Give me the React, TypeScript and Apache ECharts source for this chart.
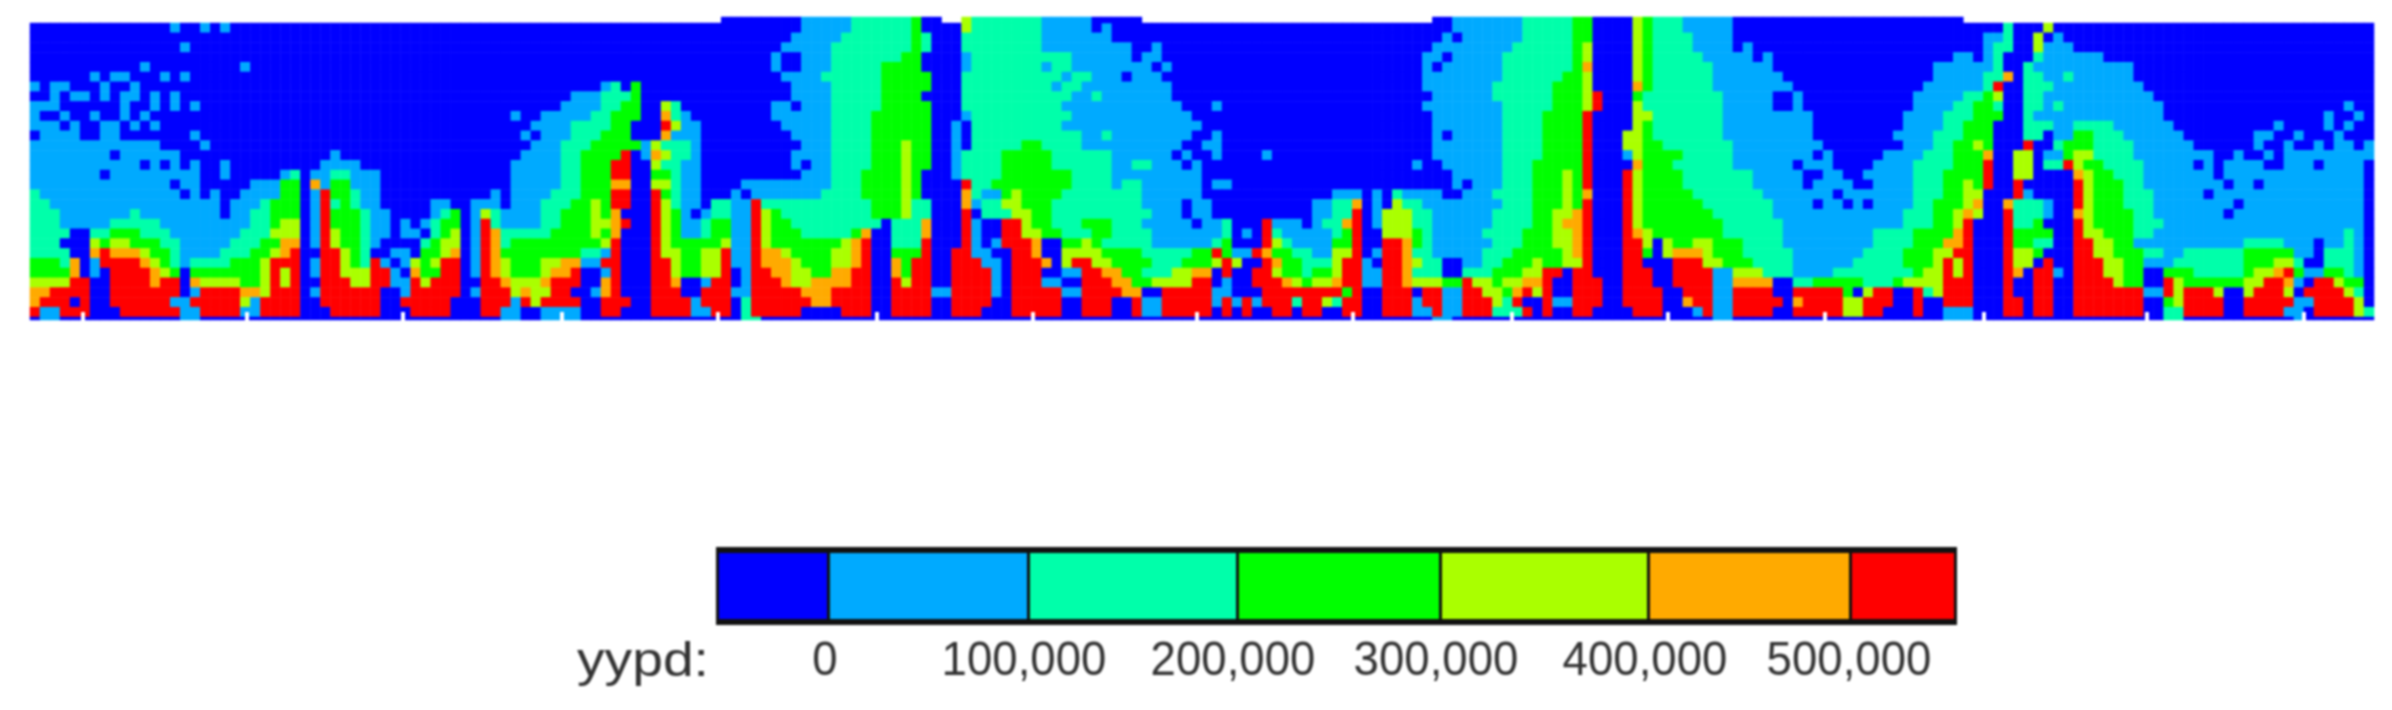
import React, { useEffect, useRef } from "react";
import * as echarts from "echarts";

// Each row: runs of "<first column><band letter>", a = below 0 ... g = above 500,000, z = no cell.
const columnCount = 234;
const rateRows = [
"0a14b15a17b18a19b20a77b82c88d89a93e94c101b106a107b108a142b149c154d156a160e161d162c165b170a197c198a201e202a",
"0a76b81c88d89c90a93c101b108a141b142a143b149c154d156a160e161d162c166b170a195b197c198a200e201a202b203a",
"0a15b16a75b80c88d89c90a93c101b110a112b113a140b148c154d155e156a160e161d162c166b170a171b172a195b196c198a200e201b204a",
"0a74b75a77b80c87d89a93b94c104b110a111b113a139b141a142b147c154d155e156a160e161d162c167b172a173b174a192b194a195b196c197a200c201b207a",
"0a11b12a21b22a74b75a77b80c85d89a93b94c101b102c104b112a113b114a139b140a141b147c154d155f156a160e161d162c168b174a190b196c197a199c200b210a",
"0a6b7a8b10a13b14a15b16a75b79c85d90a93c103b104c106b109a110b113a139b147c153d155e156a160e161d162c168b175a190b195c197f198a199c201b203c204b210a",
"0b1a2b4a7b8a10b11a57b58c59a60d61a76b80c85d90a93c102b103c105b114a139b146c152d155e156a160f161d162c168b176a189b195c196g197a199c202b211a",
"0a2b3a4b6a7b8a9b11a12b13a14b15a54b57c60d61a76b80c85d89a93c104b106c107b114a140b146c152d155e156g157a160d161c169b174a176b177a188b193c195d196e197a199c201b212a",
"0b3a9b10a12b13a14b15a16b17a53b57c59d61a63e64c65a74b76a77b80c85d90a93c103b115a118b119a139b147c152d155e156g157a160e161c169b174a176b177a188b192c194d196c197a199c201b202c203b213a231b232a",
"0b1a3b4a6b7a9b10a11b12a48b49a51b56c58d61a63f64c65b66a74b80c84d90a93b94c104b116a140b147c151d155g156a160e162c169b178a187b191c194d197a199c200b213a229b230a232b233a",
"0b3a4b5a7b9a10b11a12b13a50b54c58d60a63g64e65b67a75b80c84d90a92b93a94c103b117a140b147c151d155g156a160e161d162c169b178a187b191c193d196a199c202b204c208b214a224b225a229b230a231b232a",
"0a1b5a7b9a16b17a49b50a51b54c57d60a63f64b67a76b80c84d90a92b93a94c105b107c108b116a118b119a140b141a142b147c151d155g156a159e161d162c169b178a186b190c193d196a199c201a202b204d206c209b215a222b224a226b227a230b231a",
"0b13a17b18a50b53c56d61b62e63c66b67a77b80c84d87e88d90a92b93a94c99d101c105b115a117b119a140b147c151d155g156a159e161d163c170b179a186a187b190c192d194e195d196a199g200a202c203d206c210b216a222b223a225b226a228b229a230b232a233b234a",
"0b8a9b15a30b31a49b53c55d59g60a61b62f63e64c66b67a76b80c84d87e88d90a92b93c97d102c108b114a115b116a118b119a123b124a140b147c151d155g156a159b160e161d165c170b178a179b180a185b189c192d195f196a198e200a201b203d204e206c210b218a220b221a223b224a225b234a",
"0b11a12b13a14b15a16b17a19b20a29b33a48b53c55d58g60a62e63c65b67a76b77a78b80c84d87e88d90a92b93c97d102c108b110c112b115a116b117a138b139a141b147c150d155g156a160f161d164c170b176a177b180a184b188c192d195g196a198e200a201c203g204e205d207c211b216a217b218a219b223a225b228a229b233a",
"0b7a8b17a19b20a25b26c27a28b30c32b35a48b53c55d58g60a62d64c65b67a77b80c83d87e88d89a92b93c97d104c108b117a142b147c150d153e154d155g156a159g160e161d165c172b177a179b181a183b188c191d195g196a198e200a204f205e206d208c211b218a219b233a",
"0b14a15b17a22b25d27a28f29b30d32b35a48b53c55d58f60a62e64c65b67a71b80c83d87e88d89a93g94c96d104c108b109c111b117a118b120a142b143a144b147c150d153e154d155g156a159g160e161d165c172b177a178b182a184b188c191d193e194d195g196a198g199a204g205e206d209c211b219a220b222a223b233a",
"0c1b15a16b17a18b19a21b25d27a28b29g30d32c33b35a46b47a48b52c55d58g60a62g63d64c65b67a70b71a72b79c83d87e88d89a93f94c95b97d98e99d103c111b117a130b133a134b135a136c137b141a143b146c150d153e154d155f156a159g160e161d166c173b180a181b188c191d193e195a198g199b200a204g205e206d209c212b217a218b233a",
"0c2b19a20b23c24d27a28b29g30c31d32c33b35a40b42a44b47a48b51c54d56e57d58g60a62g63e64c65b67a68c70b72g73c84d87e88c90a93f94b95c97e99d102c111b115a116b118a128b130c132f133a134b135a136e137c139b147c150d153e154d155g156a159g160e161d167c174b178a179b181a182b183a184b188c190d193e194f195a197f198c201b202a204g205e206d209c212b220a221b233a",
"0c3b10c11b19a20b22c24d27a28b29g30d33c34b36a40b41c42d43a44b45e46c47b51c53d56e57d58f59a62g63e64d65b66a67b68c70b72g73e74d75c84d87e88c90a93g94a95c98e100d102c112b115a116b118a128b130c132g133a134b135e138c140b146c150d152e154f155g156a159g160e161d168c174b187c190d192e193f194e195a197g198c201b202a204f205e206d210c212b219a220b233a",
"0c3b8c13b22c24d25e27a28b29g30d33c34b36a37b38a39b40c41d43a44b45g46c47b51c53d56e58f59g60a62g63e64d65b67c68d70b72g73e74d76c85a86c89f90a93g94b95a97g99e100d102c105d108c111b116a117b119c120a123g124b127a128b129c131f132g133a134b135e138c140b146c150d152e153f155g156a159g160e161d169c175b187c190d192e193g194a197g198c200d201a204g205e206d210c213b233a",
"0c4a6c8d11c14b21c24e27a28b29g30e31d33c34b36a37b39a40c41d42e43a44b45g46f47c52d56e57d58f59a62g63e64d65b67c68d70b72g73e74d77c82d83f84a86c89f90a93g94b95a97g99e101d103c106d108c112b119c120a121b122a123g124c125b130c131d132g133a135e138d139c140b145c149d152e154f155g156a159g160f161e162d169c175b184c188d192f193g194a197g198d202a204g205e207d210c212b231c232b233a",
"0c3a6e7d8e10d13c15b20c23d25f27a28b29g30e31d33c34b35a39c40d41e43a44b45g46f47c48d57e58g59a62g63e64d69e70b72g73e74d81e82f83g84a86c89g90a93g94b95a96b97g100f101a103d105e106d107c112b118c119d120a123g124e125c126b130d132g133a135g137f138d139c140b146c149d152e154f155g156a159g161e162a163e164d166e168d171c175b184c188d191f193g194a197g198d200c202a204g206e208d210b221c225b228a229b231c232b233a",
"0c4a6f7g8f11e12d14c15b19c22d24e25f26g27a29g31e32d33c34a36b38a39d41e42f43a44b45g46f47d55c57b58g59a62g63e65d67e69g70b72g73f75e76d80e82f83g84a86d89g90a92g94b96a98g100f101a103e107d111c116d118g119d120b122g123f124d126c128b130e132g133a134b135g137f138c140b145c148d153e154f155g156a159g161d162a163e164f167e168d171c176b183c187d190e192g194a197g198e200d201a204g206e208d211c213b215c221d226b228a229c232b233a",
"0d3c4f5a6b7g11f12e13d14c15b16c20d23e24g27a28b29g31e32d33c34g35b36a37b38e39d40e41g43a44b45g46f47e48d51e53f55b57g59a62g64e65d67e69g70b72g73f76e77d80e82f83g84a86f87d88g90a92g95b97a98g101f102a103e104g106e108d112c115d118e119g120e121a123g124f125d127c130e131g133b134a135g137f138e139c141a143b145c147d150e151d153e155g156a159g161a164g167e169d172c176b182c187d190e191g192e193g194a197g198e200a201g202a204g207e209d211b214c221d224e226c227a229c232b233a",
"0d4f5a6b7a8g12f13e14d15a16d23e24g25e26g27a28b29g31e34g36b37a38f39d41g43a44b45g46f47e48d51e52f54g55a57b58g59a62g64e65d67e69g70a71b72g74f76e78d80f82g84a86f87d88g90a92g96b97a98g101a103b105g107f109d111c114e116f118a119g120a122g124e125d127c128d130e131g133b135g137f138c141a143c146d149e151g153a154g156a159g162a164g168b170e173c176b180c188d189e191g192e193g194a197g198f199a200g202b203a204g207e209d211a213d216c221d222e224f225g226d227b229d231c232b233a",
"0e4g6a8g12f13g15a16f17e21d23e24g25e26g27a29g32e34g36b38g39e40g43a45g47f48e51f52g55a57f58g59a62g64f65a67b68g70a71b72g75f76e78f82g84a86g87e88g90a92g96b97a98g101b103a105g108f110d112e116g118a119b120a122g125f126e127d128e130f131g133b135g137f138e141d143g144e146d147e149f151g152a154g157a159g162a164g168b170f174a176c178d183c186d187e191g194a197g198a200g202a204g208e209d211a213g214e215d221e223g225f226b227a228g230e231d233a",
"0f2g6a8g15a16b17g21f23e24g27a28b29g35a37b38g43a44b45g48e49f50e52g54a56b57f58g59a62g65a67g70b72g77f80g84a86g90b92g96b97a98g103b105g109f111a113g118b120a123g131d132g133a135g138a139g141b143g145e147d148f149g150e151g152a154g157a159g163a165g168b170g174a176g181d182a183e184g186a188g189c190e191g194a197g198a200g202a204g211b213g214e215g218e219a221e222g225e226a227g231e232c233a",
"0f1g4a5g6a8g14b16g21e22b23g27a29g35a37g42a45g47g48b49g50e51g55a57g60a62g66b67g70a71c72g78f80g84a86g90a92g96a98g103a105g108a110g111b113g118b119g120b121g122b123g126c127g129e130c131g133a135g138b139g141b143g146e147c148g149a151g152b154g157a159g163a165f166g168b170g175a176f177g181e183g186a188g189a191g194a197g199a200g202a204g211a213d214e215g219a221g226b228g232e233a",
"0g1b3g6a9g15b17g21b23g27a30g35a38g42a45g47b49a51b55a57g59a62g66b68g70a71c72g77a81g84a86g90a92g95a98g103a105g108a110g111b113g118a119g120a121g122a124g126a127g129a131g133a135g138b140g141b143g146c149g150a151g152a154g156a160g163a166b167g168b170g174a176g181e183g185a188g189a191b194a197g199a200g202a204g211a213c215g219a221g225b227a228g232e233c",
];
const raisedStrip = "0z69a77b82c88d89a91z93e94c101b106a111z140a142b149c154d156a160e161d162c165b170a193z";
const bottomStrip = "0a1b3a15b17a47b49a51b55a71c73a140b142a168b170a191b194a213c215a226b227a";

const bandLetters = "abcdefg";
const bandValues = [-50000, 50000, 150000, 250000, 350000, 450000, 550000];
const bandColors = ["#0000ff", "#00aaff", "#00ffaa", "#00ff00", "#aaff00", "#ffaa00", "#ff0000"];
const bandLimits = [-100000, 0, 100000, 200000, 300000, 400000, 500000, 600000];

const legendEdges = [719, 827, 1027, 1236, 1439, 1647, 1849, 1954];
const legendTicks = ["0", "100,000", "200,000", "300,000", "400,000", "500,000"];
const legendTickCentres = [825, 1024, 1233, 1436, 1645, 1849];
const legendUnit = "yypd:";
const notchPositions = [83, 247, 403, 562, 718, 877, 1033, 1197, 1353, 1512, 1668, 1825, 1984, 2147, 2304];

function decode(row: string, r: number) {
  const tokens = [...row.matchAll(/(\d+)([a-gz])/g)];
  const out: number[][] = [];
  tokens.forEach((t, i) => {
    const start = Number(t[1]);
    const end = i + 1 < tokens.length ? Number(tokens[i + 1][1]) : columnCount;
    const band = bandLetters.indexOf(t[2]);
    if (band < 0) return;
    for (let c = start; c < end && c < columnCount; c++) out.push([c, r, bandValues[band]]);
  });
  return out;
}

const columns = Array.from({ length: columnCount }, (_, i) => String(i));
const rowNames = rateRows.map((_, i) => String(i));

export default function App() {
  const ref = useRef<HTMLDivElement>(null);
  useEffect(() => {
    const chart = echarts.init(ref.current!, null, { renderer: "svg" });
    const hiddenX = (gridIndex: number) => ({ type: "category", data: columns, gridIndex, show: false });
    const heat = (xAxisIndex: number, yAxisIndex: number, data: number[][]) => ({
      type: "heatmap", xAxisIndex, yAxisIndex, data, progressive: 0, silent: true,
      itemStyle: { borderWidth: 0 }, emphasis: { disabled: true },
    });
    const graphic: any[] = [];
    notchPositions.forEach((x) =>
      graphic.push({ type: "rect", shape: { x: x - 2, y: 312, width: 4, height: 11 }, style: { fill: "#ffffff" }, z: 50 })
    );
    graphic.push({ type: "rect", shape: { x: 716, y: 547, width: 1241, height: 78 }, style: { fill: "#111111" }, z: 50 });
    bandColors.forEach((fill, i) =>
      graphic.push({
        type: "rect",
        shape: { x: legendEdges[i] + (i ? 3 : 0), y: 553, width: legendEdges[i + 1] - legendEdges[i] - (i ? 3 : 0), height: 66 },
        style: { fill }, z: 51,
      })
    );
    legendTicks.forEach((text, i) =>
      graphic.push({
        type: "text", x: legendTickCentres[i], y: 659, z: 51, scaleX: 0.95,
        style: { text, fontFamily: "Liberation Sans", fontSize: 48, fill: "#333333", textAlign: "center", textVerticalAlign: "middle" },
      })
    );
    graphic.push({
      type: "text", x: 577, y: 659, z: 51, scaleX: 1.15,
      style: { text: legendUnit, fontFamily: "Liberation Sans", fontSize: 48, fill: "#333333", textAlign: "left", textVerticalAlign: "middle" },
    });
    chart.setOption({
      animation: false,
      backgroundColor: "#ffffff",
      grid: [
        { left: 30, top: 23, width: 2344, height: 294 },
        { left: 30, top: 17, width: 2344, height: 6 },
        { left: 30, top: 317, width: 2344, height: 3 },
      ],
      xAxis: [hiddenX(0), hiddenX(1), hiddenX(2)],
      yAxis: [
        { type: "category", data: rowNames, inverse: true, gridIndex: 0, show: false },
        { type: "category", data: ["top"], gridIndex: 1, show: false },
        { type: "category", data: ["bottom"], gridIndex: 2, show: false },
      ],
      visualMap: {
        type: "piecewise", show: false, seriesIndex: [0, 1, 2],
        pieces: bandColors.map((color, i) => ({ min: bandLimits[i], max: bandLimits[i + 1], color })),
      },
      series: [
        heat(0, 0, rateRows.flatMap((row, r) => decode(row, r))),
        heat(1, 1, decode(raisedStrip, 0)),
        heat(2, 2, decode(bottomStrip, 0)),
      ],
      graphic,
    });
    return () => chart.dispose();
  }, []);
  return (
    <div
      ref={ref}
      style={{ position: "fixed", left: 0, top: 0, width: 2392, height: 710, background: "#fff", filter: "blur(1px)" }}
    />
  );
}
